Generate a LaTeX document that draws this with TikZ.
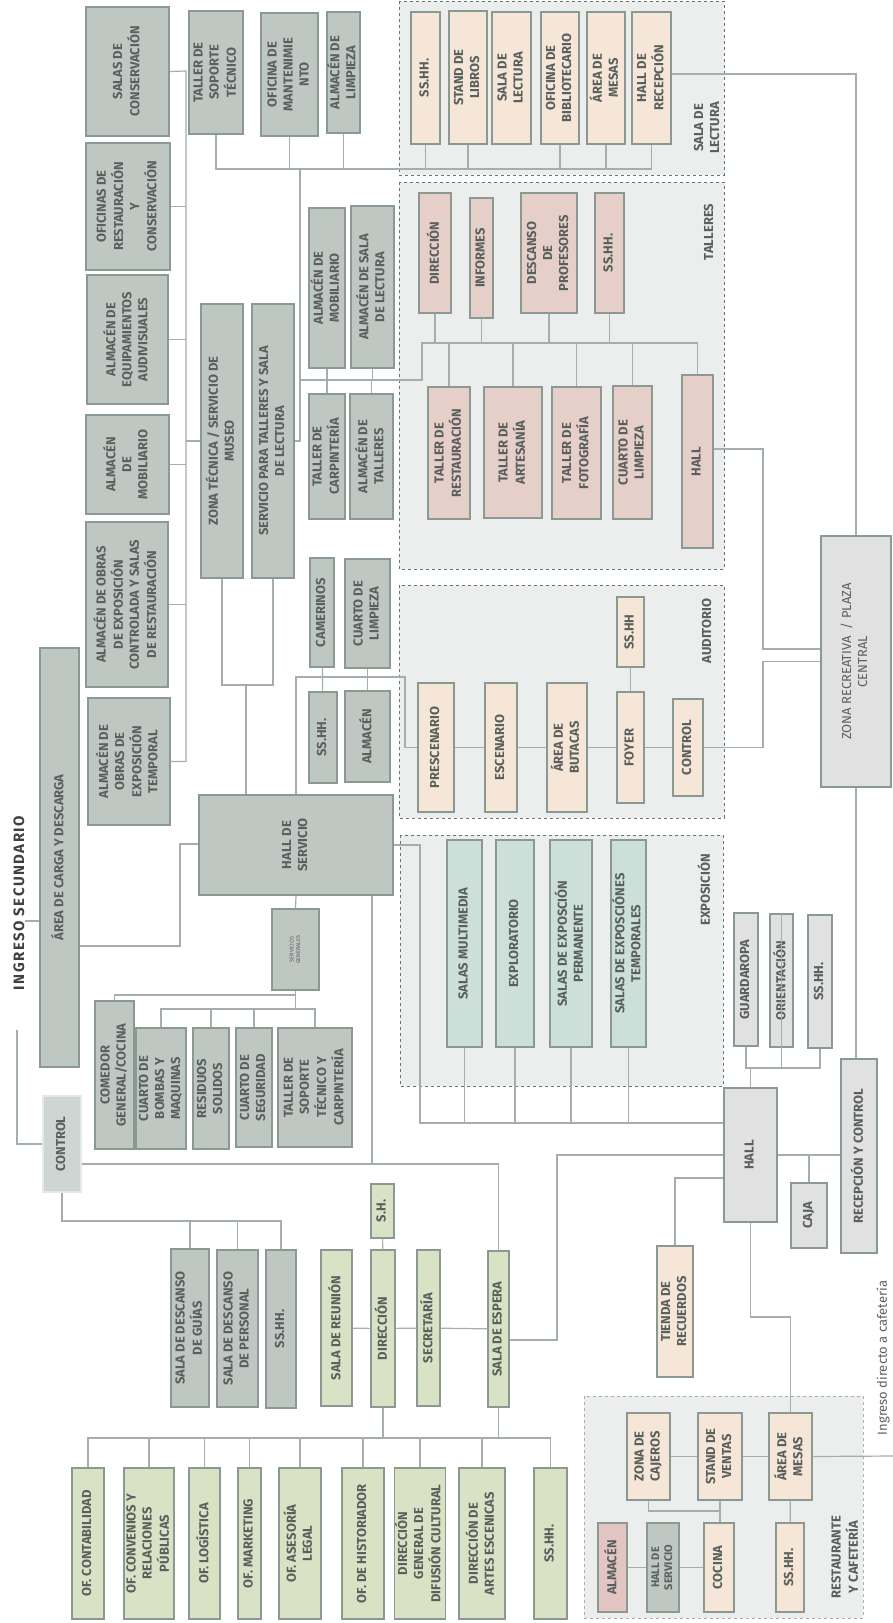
\documentclass[tikz,border=0pt]{standalone}
\usepackage{fontspec}
\setmainfont{Fira Sans}
\newfontfamily\ingfont{Fira Sans}[LetterSpace=10]
\usetikzlibrary{calc}

\definecolor{linkc}{HTML}{A4AFAB}
\definecolor{edgec}{HTML}{8A9A93}
\definecolor{txtc}{HTML}{5A605D}
\definecolor{svcfill}{HTML}{BFC7C3}
\definecolor{peach}{HTML}{F5E6D7}
\definecolor{rose}{HTML}{E6CFC8}
\definecolor{rosedark}{HTML}{E3C6C3}
\definecolor{mint}{HTML}{CCDFD9}
\definecolor{olive}{HTML}{D9E2C5}
\definecolor{pale}{HTML}{E1E1E1}
\definecolor{grpbg}{HTML}{ECEEED}
\definecolor{grpdash}{HTML}{5E7B70}
\definecolor{grpdashlt}{HTML}{A9B0AD}

\newcommand\roomfont{\fontsize{13}{16}\selectfont\bfseries}
\newcommand\vtext[1]{\rotatebox{90}{\begin{tabular}{@{}c@{}}#1\end{tabular}}}
% style, name, left, top, right, bottom, text
\newcommand\room[7]{\node[#1, minimum width={(#5-#3)*1pt}, minimum height={(#6-#4)*1pt}]
  (#2) at ({(#3+#5)/2},{(#4+#6)/2}) {\vtext{#7}};}

\begin{document}
\begin{tikzpicture}[x=1pt, y=-1pt,
  room/.style = {draw=edgec, line width=1.4pt, inner sep=0pt, text=txtc, font=\roomfont},
  svc/.style = {room, fill=svcfill},
  lect/.style = {room, fill=peach},
  tall/.style = {room, fill=rose},
  expo/.style = {room, fill=mint},
  adm/.style = {room, fill=olive},
  pub/.style = {room, fill=pale},
  grp/.style = {fill=grpbg, draw=grpdash, dashed, line width=0.8pt},
  grplabel/.style = {inner sep=0pt, text=txtc, font=\roomfont},
  link/.style = {draw=linkc, line width=1.2pt}]
\useasboundingbox (0,0) rectangle (893,1623);
\fill[white] (0,0) rectangle (893,1623);

% zones
\draw[grp] (399,1) rectangle (724,175);
\draw[grp] (399,182) rectangle (724,569);
\draw[grp] (399,585) rectangle (724,818);
\draw[grp] (400,835) rectangle (723,1086);
\draw[grp, draw=grpdashlt] (584,1396) rectangle (863,1618);

\node[grplabel] (lbllect) at (708,128) {\vtext{SALA DE\\LECTURA}};
\node[grplabel] (lbltall) at (710,232) {\vtext{TALLERES}};
\node[grplabel] (lblaud) at (708,631) {\vtext{AUDITORIO}};
\node[grplabel] (lblexpo) at (706,890) {\vtext{EXPOSICIÓN}};
\node[grplabel] (lblrest) at (846,1557) {\vtext{RESTAURANTE\\Y CAFETERÍA}};
\node[inner sep=0pt, text=black!75, font=\ingfont\fontsize{15}{18}\selectfont\bfseries]
  (ingreso) at (19,903) {\rotatebox{90}{INGRESO SECUNDARIO}};
\node[inner sep=0pt, text=txtc, font=\fontsize{13}{16}\selectfont]
  (ingcafe) at (883,1358) {\rotatebox{90}{Ingreso directo a cafetería}};

% technical services
\room{svc}{salascons}{86}{7}{169}{136}{SALAS DE\\CONSERVACIÓN}
\room{svc}{ofrest}{86}{143}{170}{270}{OFICINAS DE\\RESTAURACIÓN\\Y\\CONSERVACIÓN}
\room{svc}{almequip}{87}{275}{168}{404}{ALMACÉN DE\\EQUIPAMIENTOS\\AUDIVISUALES}
\room{svc}{almmob}{86}{415}{169}{514}{ALMACÉN\\DE\\MOBILIARIO}
\room{svc}{almctrl}{86}{522}{168}{687}{ALMACÉN DE OBRAS\\DE EXPOSICIÓN\\CONTROLADA Y SALAS\\DE RESTAURACIÓN}
\room{svc}{almtemp}{88}{698}{170}{825}{ALMACÉN DE\\OBRAS DE\\EXPOSICIÓN\\TEMPORAL}
\room{svc}{tallersop}{189}{11}{243}{134}{TALLER DE\\SOPORTE\\TÉCNICO}
\room{svc}{ofmant}{261}{13}{318}{136}{OFICINA DE\\MANTENIMIE\\NTO}
\room{svc}{almlimp}{327}{12}{360}{133}{ALMACÉN DE\\LIMPIEZA}
\room{svc}{zonatec}{201}{304}{243}{578}{ZONA TÉCNICA / SERVICIO DE\\MUSEO}
\room{svc}{servtall}{252}{304}{294}{578}{SERVICIO PARA TALLERES Y SALA\\DE LECTURA}
\room{svc}{almmob2}{309}{208}{345}{368}{ALMACÉN DE\\MOBILIARIO}
\room{svc}{almsala}{351}{206}{394}{368}{ALMACÉN DE SALA\\DE LECTURA}
\room{svc}{carpint}{309}{394}{345}{519}{TALLER DE\\CARPINTERÍA}
\room{svc}{almtall}{350}{394}{393}{519}{ALMACÉN DE\\TALLERES}

% reading room
\room{lect}{lsshh}{411}{12}{440}{144}{SS.HH.}
\room{lect}{libros}{449}{11}{487}{144}{STAND DE\\LIBROS}
\room{lect}{lsala}{492}{12}{531}{144}{SALA DE\\LECTURA}
\room{lect}{biblio}{541}{12}{579}{144}{OFICINA DE\\BIBLIOTECARIO}
\room{lect}{lmesas}{587}{12}{625}{144}{ÁREA DE\\MESAS}
\room{lect}{lhall}{632}{12}{671}{144}{HALL DE\\RECEPCIÓN}

% workshops
\room{tall}{tdir}{419}{193}{451}{313}{DIRECCIÓN}
\room{tall}{tinf}{470}{198}{493}{318}{INFORMES}
\room{tall}{tdesc}{521}{193}{577}{313}{DESCANSO\\DE\\PROFESORES}
\room{tall}{tsshh}{595}{193}{624}{313}{SS.HH.}
\room{tall}{trest}{428}{387}{470}{519}{TALLER DE\\RESTAURACIÓN}
\room{tall}{tart}{484}{387}{542}{518}{TALLER DE\\ARTESANÍA}
\room{tall}{tfoto}{552}{387}{601}{519}{TALLER DE\\FOTOGRAFÍA}
\room{tall}{tlimp}{613}{386}{652}{519}{CUARTO DE\\LIMPIEZA}
\room{tall}{thall}{682}{375}{713}{548}{HALL}

% auditorium
\room{svc}{camer}{310}{558}{334}{667}{CAMERINOS}
\room{svc}{alimp}{345}{559}{390}{668}{CUARTO DE\\LIMPIEZA}
\room{svc}{asshh}{309}{692}{337}{783}{SS.HH.}
\room{svc}{aalm}{345}{691}{390}{782}{ALMACÉN}
\room{lect}{presc}{418}{683}{454}{812}{PRESCENARIO}
\room{lect}{escen}{485}{683}{517}{812}{ESCENARIO}
\room{lect}{butac}{547}{683}{587}{812}{ÁREA DE\\BUTACAS}
\room{lect}{asshh2}{617}{597}{644}{667}{SS.HH}
\room{lect}{foyer}{617}{692}{644}{803}{FOYER}
\room{lect}{actrl}{673}{699}{703}{796}{CONTROL}

\room{pub, font=\fontsize{13}{16}\selectfont}{zona}{821}{536}{891}{787}{ZONA RECREATIVA \ / PLAZA\\CENTRAL}

% exhibition
\room{expo}{multi}{447}{840}{482}{1047}{SALAS MULTIMEDIA}
\room{expo}{explo}{496}{840}{534}{1047}{EXPLORATORIO}
\room{expo}{perm}{550}{840}{592}{1047}{SALAS DE EXPOSCIÓN\\PERMANENTE}
\room{expo}{temp}{611}{840}{646}{1047}{SALAS DE EXPOSCIÓNES\\TEMPORALES}

% main hall
\room{pub}{guard}{734}{913}{758}{1046}{GUARDAROPA}
\room{pub}{orient}{770}{914}{793}{1047}{ORIENTACIÓN}
\room{pub}{hsshh}{808}{915}{832}{1048}{SS.HH.}
\room{pub}{hall}{724}{1088}{777}{1222}{HALL}
\room{pub}{recep}{841}{1059}{877}{1253}{RECEPCIÓN Y CONTROL}
\room{pub}{caja}{791}{1183}{827}{1248}{CAJA}
\room{lect}{tienda}{657}{1246}{693}{1377}{TIENDA DE\\RECUERDOS}

% general services
\room{svc}{carga}{40}{648}{79}{1067}{ÁREA DE CARGA Y DESCARGA}
\room{svc}{hallsvc}{199}{795}{393}{895}{HALL DE\\SERVICIO}
\room{svc, font=\fontsize{5.5}{6.5}\selectfont}{servgen}{272}{909}{319}{990}{SERVICIOS\\GENERALES}
\room{svc}{comedor}{95}{1001}{134}{1149}{COMEDOR\\GENERAL/COCINA}
\room{svc}{bombas}{136}{1028}{186}{1149}{CUARTO DE\\BOMBAS Y\\MAQUINAS}
\room{svc}{residuos}{193}{1028}{229}{1149}{RESIDUOS\\SOLIDOS}
\room{svc}{segur}{236}{1028}{272}{1147}{CUARTO DE\\SEGURIDAD}
\room{svc}{tallertc}{278}{1028}{352}{1147}{TALLER DE\\SOPORTE\\TÉCNICO Y\\CARPINTERÍA}
\room{svc, fill=svcfill!75, draw=svcfill!40}{control}{43}{1096}{81}{1192}{CONTROL}
\room{svc}{descg}{171}{1249}{209}{1407}{SALA DE DESCANSO\\DE GUÍAS}
\room{svc}{descp}{217}{1250}{258}{1407}{SALA DE DESCANSO\\DE PERSONAL}
\room{svc}{ssshh}{266}{1250}{296}{1408}{SS.HH.}

% administration
\room{adm}{sh}{371}{1184}{394}{1238}{S.H.}
\room{adm}{reunion}{321}{1250}{352}{1406}{SALA DE REUNIÓN}
\room{adm}{dir}{371}{1250}{395}{1407}{DIRECCIÓN}
\room{adm}{secre}{417}{1250}{440}{1406}{SECRETARÍA}
\room{adm}{espera}{488}{1251}{509}{1407}{SALA DE ESPERA}
\room{adm}{contab}{72}{1468}{104}{1619}{OF. CONTABILIDAD}
\room{adm}{conv}{124}{1468}{174}{1619}{OF. CONVENIOS Y\\RELACIONES\\PÚBLICAS}
\room{adm}{logis}{189}{1468}{220}{1619}{OF. LOGÍSTICA}
\room{adm}{mkt}{238}{1468}{261}{1619}{OF. MARKETING}
\room{adm}{legal}{279}{1468}{321}{1619}{OF. ASESORÍA\\LEGAL}
\room{adm}{hist}{342}{1468}{384}{1619}{OF. DE HISTORIADOR}
\room{adm}{difus}{396}{1468}{444}{1619}{DIRECCIÓN\\GENERAL DE\\DIFUSIÓN CULTURAL}
\room{adm}{artes}{459}{1468}{505}{1619}{DIRECCIÓN DE\\ARTES ESCENICAS}
\room{adm}{asshh3}{534}{1468}{567}{1619}{SS.HH.}

% restaurant
\room{tall, fill=rosedark}{ralm}{598}{1523}{627}{1612}{ALMACÉN}
\room{svc, font=\fontsize{11}{13}\selectfont\bfseries}{rhall}{647}{1523}{679}{1612}{HALL DE\\SERVICIO}
\room{lect}{cocina}{704}{1523}{734}{1612}{COCINA}
\room{lect}{rsshh}{776}{1523}{804}{1612}{SS.HH.}
\room{lect}{cajeros}{627}{1413}{670}{1500}{ZONA DE\\CAJEROS}
\room{lect}{ventas}{698}{1413}{742}{1500}{STAND DE\\VENTAS}
\room{lect}{rmesas}{769}{1413}{812}{1500}{ÁREA DE\\MESAS}

% links: storage wing
\coordinate (lbus) at (186,71);
\draw[link] (salascons.east) -- (lbus) |- (almtemp.east);
\foreach \n in {ofrest,almequip,almmob,almctrl}
  \draw[link] (\n.east) -- (\n.east -| lbus);
\draw[link] (zonatec.west) -- (zonatec.west -| lbus);

% links: technical corridor
\coordinate (tbus) at (300,169);
\coordinate (sbus) at (300,380);
\coordinate (wbus) at (422,343);
\draw[link] (tallersop.south) |- (lhall.south |- tbus) -- (lhall.south);
\foreach \n in {ofmant,almlimp,lsshh,libros,biblio,lmesas}
  \draw[link] (\n.south) -- (\n.south |- tbus);
\draw[link] (tbus) |- (servtall.east);
\draw[link] (sbus) -| (wbus) -- (thall.north |- wbus) -- (thall.north);
\foreach \n in {almmob2,almsala}
  \draw[link] (\n.south) -- (\n.south |- sbus);
\foreach \n in {carpint,almtall}
  \draw[link] (\n.north) -- (\n.north |- sbus);
\foreach \n in {tdir,tinf,tdesc,tsshh}
  \draw[link] (\n.south) -- (\n.south |- wbus);
\foreach \n in {trest,tart,tfoto,tlimp}
  \draw[link] (\n.north) -- (\n.north |- wbus);
\draw[link] (servtall.south) |- (zonatec.south |- 0,685) -- (zonatec.south);
\draw[link] (hallsvc.north -| 246,0) -- (246,685);

% links: plaza
\coordinate (pbus) at (763,649);
\draw[link] (thall.east |- 0,449) -| (pbus) -- (zona.west |- pbus);
\draw[link] (actrl.east) -| (zona.west -| pbus) -- (zona.west);
\draw[link] (lhall.east |- 0,74) -| (zona.north);
\draw[link] (zona.south) -- (zona.south |- recep.north);

% links: auditorium
\coordinate (abus) at (405,677);
\draw[link] (hallsvc.north) |- (abus) |- (presc.west);
\draw[link] (camer) -- (asshh);
\draw[link] (alimp) -- (aalm);
\draw[link] (presc) -- (escen);
\draw[link] (escen) -- (butac);
\draw[link] (butac) -- (foyer);
\draw[link] (foyer) -- (actrl);
\draw[link] (asshh2) -- (foyer);

% links: exhibition and hall
\coordinate (ebus) at (420,1123);
\coordinate (hbus) at (557,1155);
\draw[link] (hallsvc.east) -| (ebus) -- (hall.west |- ebus);
\foreach \n in {multi,explo,perm,temp}
  \draw[link] (\n.south) -- (\n.south |- ebus);
\draw[link] (guard.south) |- (hsshh.south |- 0,1068) -- (hsshh.south);
\foreach \n in {orient,hall}
  \draw[link] (\n.north) -- (\n.north |- 0,1068);
\draw[link] (hall.east) -- (hall.east -| recep.west);
\draw[link] (caja.north) -- (caja.north |- hall.east);
\draw[link] (hall.west |- 0,1178) -| (tienda.north);
\draw[link] (hall.south) |- (rmesas.north |- 0,1317) -- (rmesas.north);
\draw[link] (espera.east |- 0,1340) -| (hbus) -- (hall.west);

% links: service entrance
\coordinate (cbus) at (180,844);
\coordinate (cin) at (17,1030);
\coordinate (dbus) at (372,1164);
\draw[link] (ingreso.east |- 0,921) -- (carga.west |- 0,921);
\draw[link] (cin) |- (control.west);
\draw[link] (carga.east |- 0,946) -| (cbus) -- (hallsvc.west |- cbus);
\draw[link] (hallsvc.south) -- (servgen.north);
\draw[link] (servgen.south) -- (servgen.south |- 0,1009);
\draw[link] (comedor.north) |- (servgen.south |- 0,995);
\draw[link] (bombas.north) |- (tallertc.north |- 0,1009) -- (tallertc.north);
\foreach \n in {residuos,segur}
  \draw[link] (\n.north) -- (\n.north |- 0,1009);
\draw[link] (hallsvc.south -| dbus) -- (dbus) -| (espera.north);
\draw[link] (control.east |- dbus) -- (dbus);
\draw[link] (control.south) |- (ssshh.north |- 0,1221) -- (ssshh.north);
\foreach \n in {descg,descp}
  \draw[link] (\n.north) -- (\n.north |- 0,1221);

% links: administration
\coordinate (obus) at (0,1438);
\draw[link] (sh) -- (dir);
\draw[link] (reunion) -- (dir);
\draw[link] (dir) -- (secre);
\draw[link] (secre) -- (espera);
\foreach \n in {dir,espera}
  \draw[link] (\n.south) -- (\n.south |- obus);
\draw[link] (contab.north) |- (asshh3.north |- obus) -- (asshh3.north);
\foreach \n in {conv,logis,mkt,legal,hist,difus,artes}
  \draw[link] (\n.north) -- (\n.north |- obus);

% links: restaurant
\coordinate (cafe) at (893,1456);
\draw[link] (cajeros) -- (ventas);
\draw[link] (ventas) -- (rmesas);
\draw[link] (rmesas.east) -- (cafe);
\draw[link] (cajeros.south) |- (cocina.north |- 0,1511);
\draw[link] (ventas.south) -- (ventas.south |- cocina.north);
\draw[link] (ralm) -- (rhall);
\draw[link] (rhall) -- (cocina);
\draw[link] (rmesas) -- (rsshh);
\end{tikzpicture}
\end{document}
